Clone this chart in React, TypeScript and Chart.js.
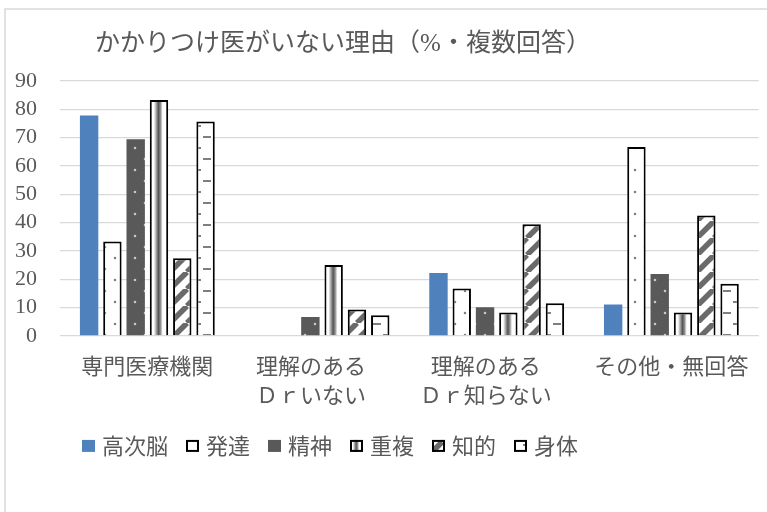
import React, { useEffect, useRef } from "react";
import { Chart, registerables } from "chart.js";

Chart.register(...registerables);

// ---------- data ----------
const TITLE = "かかりつけ医がいない理由（%・複数回答）";
const CATEGORIES: (string | string[])[] = [
  "専門医療機関",
  ["理解のある　", "Ｄｒいない　"],
  ["理解のある　", "Ｄｒ知らない　"],
  "その他・無回答",
];
const SERIES_NAMES = ["高次脳", "発達", "精神", "重複", "知的", "身体"];
const KOUJINOU = [77.8, 0, 22.2, 11.1];
const HATTATSU = [33.3, 0, 16.7, 66.7];
const SEISHIN = [69.4, 6.7, 10.1, 21.9];
const JUUFUKU = [83.3, 25.0, 8.3, 8.3];
const CHITEKI = [27.4, 9.3, 39.4, 42.5];
const SHINTAI = [75.7, 7.3, 11.5, 18.4];
const Y_MIN = 0;
const Y_MAX = 90;
const Y_STEP = 10;

// ---------- styles ----------
const CJK = "'Noto Sans CJK JP', sans-serif";
const SERIF = "'Liberation Serif', 'Noto Sans CJK JP', serif";
const DIGITS = "'Liberation Serif', 'DejaVu Serif', serif";
const TEXT = "#595959";
const GRID = "#D9D9D9";
const CAT_PCT = 0.8;
const BAR_PCT = 0.79;

function tile(w: number, h: number, draw: (g: CanvasRenderingContext2D) => void) {
  const c = document.createElement("canvas");
  c.width = w;
  c.height = h;
  const g = c.getContext("2d")!;
  draw(g);
  return c;
}

function dots(ctx: CanvasRenderingContext2D, bg: string, dot: string) {
  const t = tile(20, 22, (g) => {
    g.fillStyle = bg;
    g.fillRect(0, 0, 20, 22);
    g.fillStyle = dot;
    g.beginPath();
    g.arc(5, 5, 1.3, 0, Math.PI * 2);
    g.arc(15, 16, 1.3, 0, Math.PI * 2);
    g.fill();
  });
  return ctx.createPattern(t, "repeat")!;
}

function diagonal(ctx: CanvasRenderingContext2D) {
  const P = 17;
  const t = tile(P, P, (g) => {
    g.fillStyle = "#ffffff";
    g.fillRect(0, 0, P, P);
    g.strokeStyle = "#6a6a6a";
    g.lineWidth = 5.5;
    for (const k of [-P, 0, P]) {
      g.beginPath();
      g.moveTo(k, P);
      g.lineTo(k + P, 0);
      g.stroke();
    }
  });
  return ctx.createPattern(t, "repeat")!;
}

function dashes(ctx: CanvasRenderingContext2D) {
  const t = tile(20, 22, (g) => {
    g.fillStyle = "#ffffff";
    g.fillRect(0, 0, 20, 22);
    g.fillStyle = "#7f7f7f";
    g.fillRect(3, 4, 8, 2);
    g.fillRect(13, 15, 7, 2);
    g.fillRect(0, 15, 1, 2);
  });
  return ctx.createPattern(t, "repeat")!;
}

function stripeGradient(ctx: CanvasRenderingContext2D, x0: number, x1: number) {
  const g = ctx.createLinearGradient(x0, 0, x1, 0);
  g.addColorStop(0, "#ffffff");
  g.addColorStop(0.22, "#ffffff");
  g.addColorStop(0.35, "#a6a6a6");
  g.addColorStop(0.47, "#555555");
  g.addColorStop(0.58, "#8c8c8c");
  g.addColorStop(0.7, "#ffffff");
  g.addColorStop(1, "#ffffff");
  return g;
}

export default function App() {
  const ref = useRef<HTMLCanvasElement | null>(null);

  useEffect(() => {
    const canvas = ref.current!;
    const c2d = canvas.getContext("2d")!;

    const fills: any[] = [
      "#4F81BD",
      dots(c2d, "#ffffff", "#808080"),
      dots(c2d, "#595959", "#c8c8c8"),
      null,
      diagonal(c2d),
      dashes(c2d),
    ];
    const borders = [0, 2, 0, 2, 2, 2];
    const values = [KOUJINOU, HATTATSU, SEISHIN, JUUFUKU, CHITEKI, SHINTAI];

    const juufukuFill = (ctx: any) => {
      const chart = ctx.chart;
      const xs = chart.scales && chart.scales.x;
      if (ctx.type !== "data" || !xs || !(xs.width > 0)) return "#ffffff";
      const n = chart.data.datasets.length;
      const catW = xs.width / chart.data.labels.length;
      const pitch = (catW * CAT_PCT) / n;
      const barW = pitch * BAR_PCT;
      const cx = xs.getPixelForValue(ctx.dataIndex) + (ctx.datasetIndex - (n - 1) / 2) * pitch;
      return stripeGradient(chart.ctx, cx - barW / 2, cx + barW / 2);
    };

    const datasets = SERIES_NAMES.map((name, i) => ({
      label: name,
      data: values[i],
      backgroundColor: i === 3 ? juufukuFill : fills[i],
      borderColor: "#000000",
      borderWidth: borders[i],
      categoryPercentage: CAT_PCT,
      barPercentage: BAR_PCT,
    }));

    const overlay = {
      id: "overlay",
      beforeDraw(chart: any) {
        const g = chart.ctx;
        g.save();
        g.fillStyle = "#ffffff";
        g.fillRect(0, 0, chart.width, chart.height);
        g.strokeStyle = GRID;
        g.lineWidth = 1.5;
        g.strokeRect(5, 9, chart.width + 20, chart.height + 20);
        g.restore();
      },
      afterDraw(chart: any) {
        const g = chart.ctx as CanvasRenderingContext2D;
        const area = chart.chartArea;
        g.save();
        // title
        g.font = `25px ${SERIF}`;
        g.fillStyle = TEXT;
        g.textAlign = "center";
        g.textBaseline = "middle";
        g.fillText(TITLE, 343, 44);
        // legend
        g.font = `22px ${CJK}`;
        g.textAlign = "left";
        let x = area.left + 22;
        const cy = area.bottom + 110;
        chart.data.datasets.forEach((ds: any, i: number) => {
          g.fillStyle = i === 3 ? stripeGradient(g, x, x + 13) : fills[i];
          g.fillRect(x, cy - 6, 13, 12);
          if (borders[i] > 0) {
            g.strokeStyle = "#000000";
            g.lineWidth = 2;
            g.strokeRect(x + 1, cy - 5, 11, 10);
          }
          g.fillStyle = TEXT;
          g.fillText(ds.label, x + 20, cy);
          x += 20 + g.measureText(ds.label).width + 18;
        });
        g.restore();
      },
    };

    const chart = new Chart(canvas, {
      type: "bar",
      data: { labels: CATEGORIES as any, datasets: datasets as any },
      options: {
        animation: false,
        responsive: false,
        devicePixelRatio: 1,
        layout: { padding: { top: 81, left: 12, right: 5, bottom: 82 } },
        plugins: {
          legend: { display: false },
          title: { display: false },
          tooltip: { enabled: false },
        },
        scales: {
          x: {
            grid: { display: false, drawTicks: false },
            border: { display: false },
            ticks: {
              padding: 18,
              color: TEXT,
              maxRotation: 0,
              autoSkip: false,
              font: { family: SERIF, size: 22, lineHeight: 1.32 },
            },
          },
          y: {
            min: Y_MIN,
            max: Y_MAX,
            grid: { color: GRID, lineWidth: 1.3, drawTicks: false },
            border: { display: false },
            ticks: {
              stepSize: Y_STEP,
              autoSkip: false,
              padding: 23,
              color: TEXT,
              font: { family: DIGITS, size: 22 },
            },
            afterFit: (s: any) => {
              s.width = 48;
            },
          },
        },
      } as any,
      plugins: [overlay as any],
    });
    return () => chart.destroy();
  }, []);

  return (
    <div style={{ position: "fixed", left: 0, top: 0, width: 767, height: 512, background: "#fff" }}>
      <canvas ref={ref} width={767} height={512} />
    </div>
  );
}
